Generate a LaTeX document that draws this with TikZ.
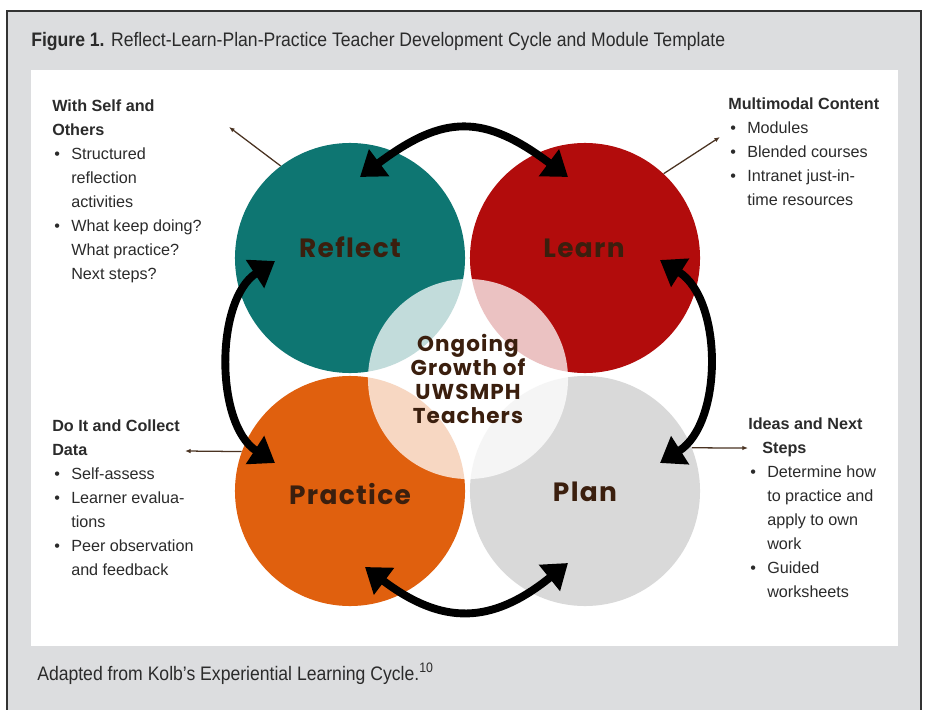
\documentclass[tikz,border=0pt]{standalone}
\usepackage{fontspec}
\setmainfont{Liberation Sans}
\newfontfamily\condsans[FakeStretch=0.9]{Liberation Sans}
\newfontfamily\roundsans[LetterSpace=5]{Poppins}
\usetikzlibrary{arrows.meta}
\definecolor{framegray}{HTML}{DCDDDF}
\definecolor{frameline}{HTML}{333333}
\definecolor{reflectteal}{HTML}{0E7672}
\definecolor{learnred}{HTML}{B20C0C}
\definecolor{practiceorange}{HTML}{E0600E}
\definecolor{plangray}{HTML}{D9D9D9}
\definecolor{labelbrown}{HTML}{3B1F0E}
\definecolor{notetext}{HTML}{2B2B2B}
\definecolor{pointerbrown}{HTML}{4A3322}
\newcommand{\bul}{\hspace*{1.5pt}\makebox[12pt][l]{\textbullet}}
\newcommand{\ind}{\hspace*{13.5pt}}

\begin{document}
\begin{tikzpicture}[x=0.025cm, y=-0.025cm,
  disc/.style={circle, inner sep=0pt, minimum size=5.75cm},
  cyclelabel/.style={anchor=base, inner sep=0pt, text=labelbrown, font=\roundsans\bfseries\fontsize{18.8}{20}\selectfont},
  note/.style={anchor=north west, inner sep=0pt, align=left, text=notetext, font=\fontsize{11.5}{17.07}\selectfont},
  caption/.style={anchor=base west, inner sep=0pt, text=notetext, font=\condsans\fontsize{13.9}{16}\selectfont},
  cyc/.style={line width=5.6pt, {Triangle[length=17pt,width=23pt]}-{Triangle[length=17pt,width=23pt]}},
  pointer/.style={draw=pointerbrown, line width=0.9pt, -{Latex[length=4pt,width=3.2pt]}},
]
  \useasboundingbox (0,0) rectangle (925,709);
  \fill[white] (0,0) rectangle (925,709);
  \draw[frameline, line width=1.8pt, fill=framegray] (7,11) rectangle (921,720);
  \fill[white] (31,70) rectangle (898,646);

  \node[caption] (title) at (31,47) {\textbf{Figure 1.} Reflect-Learn-Plan-Practice Teacher Development Cycle and Module Template};
  \node[caption] (source) at (37,680) {Adapted from Kolb’s Experiential Learning Cycle.\textsuperscript{10}};

  % the four stages
  \node[disc, fill=reflectteal] (reflect) at (350,258) {};
  \node[disc, fill=learnred] (learn) at (585,258) {};
  \node[disc, fill=practiceorange] (practice) at (350,491) {};
  \node[disc, fill=plangray] (plan) at (585,491) {};
  \node[circle, inner sep=0pt, minimum size=5cm, fill=white, fill opacity=0.75, text opacity=1,
    align=center, text=labelbrown, font=\roundsans\bfseries\fontsize{15.3}{17.07}\selectfont] (growth) at (468,379)
    {Ongoing\\Growth of\\UWSMPH\\Teachers};

  \node[cyclelabel] (reflect-l) at (350,257) {Reflect};
  \node[cyclelabel] (learn-l) at (584,257) {Learn};
  \node[cyclelabel] (practice-l) at (350,504) {Practice};
  \node[cyclelabel] (plan-l) at (585,501) {Plan};

  % cycle arrows
  \coordinate (rl-a) at (360,177);
  \coordinate (rl-b) at (568,177);
  \coordinate (lp-a) at (660,260);
  \coordinate (lp-b) at (660,463);
  \coordinate (pp-a) at (568,563);
  \coordinate (pp-b) at (365,567);
  \coordinate (pr-a) at (275,463);
  \coordinate (pr-b) at (275,261);
  \draw[cyc] (rl-a) .. controls (444,114) and (484,114) .. (rl-b);
  \draw[cyc] (lp-a) .. controls (723,300) and (723,423) .. (lp-b);
  \draw[cyc] (pp-a) .. controls (491,625) and (442,625) .. (pp-b);
  \draw[cyc] (pr-a) .. controls (215,424) and (215,300) .. (pr-b);

  % notes
  \node[note] (reflect-n) at (52,99.5) {\textbf{With Self and}\\\textbf{Others}\\
    \bul Structured\\\ind reflection\\\ind activities\\
    \bul What keep doing?\\\ind What practice?\\\ind Next steps?};
  \node[note] (learn-n) at (728,97.5) {\textbf{Multimodal Content}\\
    \bul Modules\\\bul Blended courses\\\bul Intranet just-in-\\\ind time resources};
  \node[note] (practice-n) at (52,419.5) {\textbf{Do It and Collect}\\\textbf{Data}\\
    \bul Self-assess\\\bul Learner evalua-\\\ind tions\\
    \bul Peer observation\\\ind and feedback};
  \node[note] (plan-n) at (748,417.5) {\textbf{Ideas and Next}\\\hspace*{10pt}\textbf{Steps}\\
    \bul Determine how\\\ind to practice and\\\ind apply to own\\\ind work\\
    \bul Guided\\\ind worksheets};

  \coordinate (reflect-p) at (229,127);
  \coordinate (learn-p) at (720,137);
  \coordinate (practice-p) at (185,451);
  \coordinate (plan-p) at (748,448);
  \draw[pointer] (reflect.127) -- (reflect-p);
  \draw[pointer] (learn.47) -- (learn-p);
  \draw[pointer] (practice.160) -- (practice-p);
  \draw[pointer] (plan.22) -- (plan-p);
\end{tikzpicture}
\end{document}
